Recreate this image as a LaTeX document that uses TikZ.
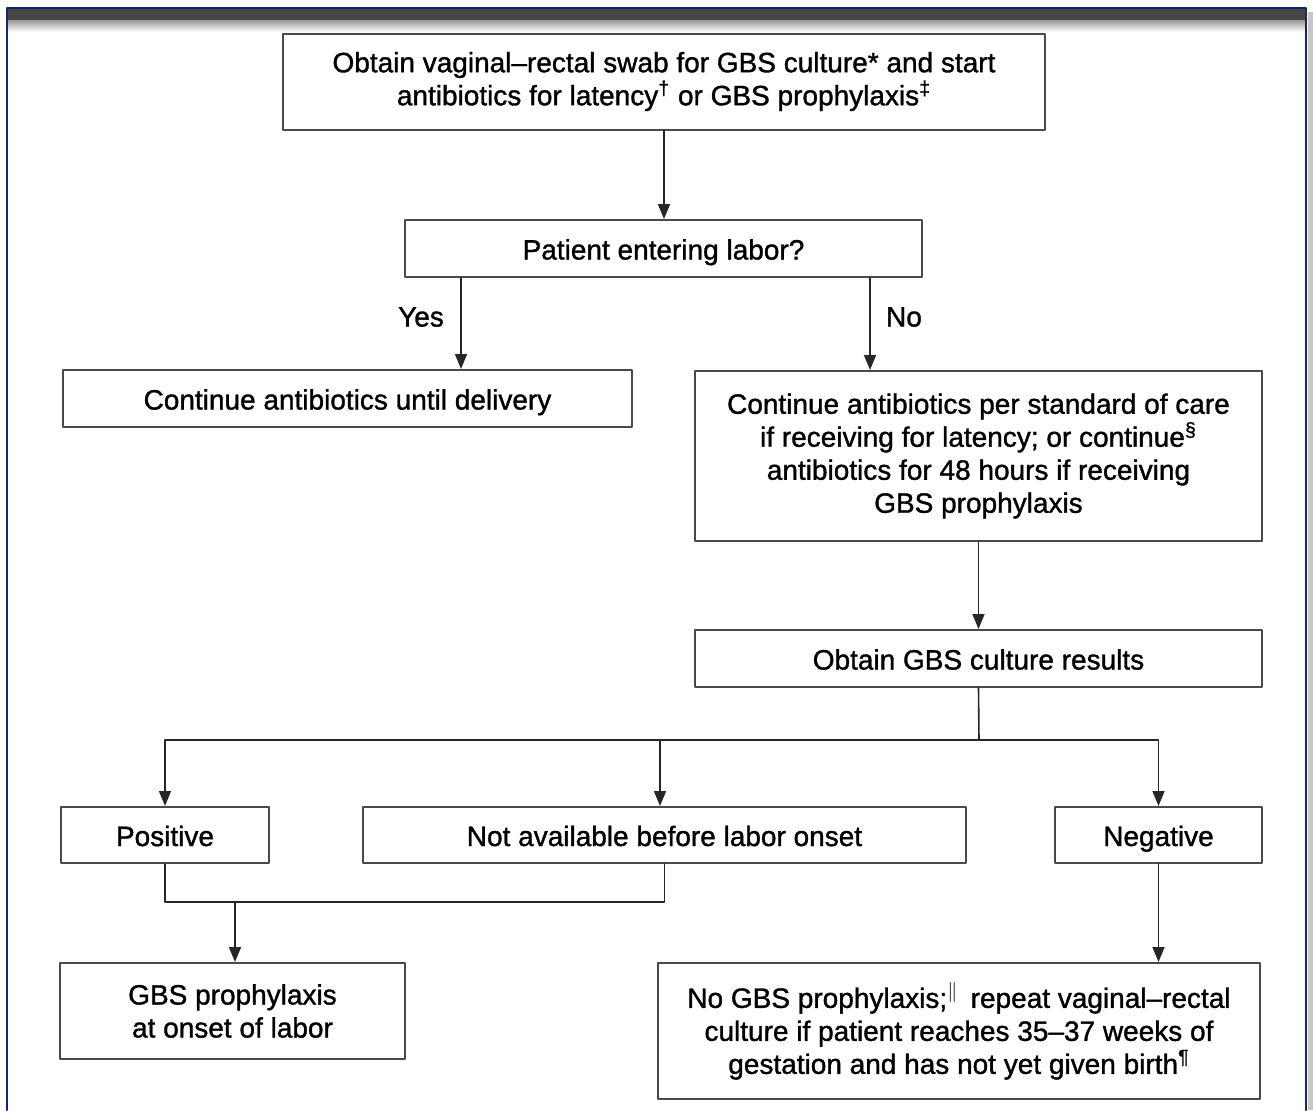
\documentclass[tikz,border=0pt]{standalone}
\usepackage{fontspec}
\setmainfont{Liberation Sans}[FakeBold=1.2]
\usetikzlibrary{arrows.meta,positioning}
\definecolor{framenavy}{HTML}{0B2A6B}
\definecolor{boxline}{HTML}{4A4A4A}
\newcommand{\flowfont}{\fontsize{14}{16.5}\selectfont}
\tikzset{
  flow box/.style={draw=boxline,line width=1pt,fill=white,align=center,inner sep=2pt,font=\flowfont},
  one line/.style={text height=11.5pt,text depth=.5pt},
  flow edge/.style={line width=.8pt,draw=black!85},
  flow arrow/.style={flow edge,-{Triangle[width=6pt,length=7.5pt]}},
  branch label/.style={font=\flowfont,inner sep=1pt}
}

\begin{document}
\begin{tikzpicture}[x=0.5pt,y=-0.5pt,line cap=round,line join=round]
  \useasboundingbox (0,0) rectangle (1313,1110);

  % Frame with dark title bar.
  \fill[black!22] (1308,12) rectangle (1313,1110);
  \shade[top color=black!40,bottom color=white] (7,20) rectangle (1306,32);
  \fill[black!72] (7,8) rectangle (1306,20);
  \draw[framenavy,line width=1.3pt] (7,1110) -- (7,8) -- (1306,8) -- (1306,1110);

  % Boxes.
  \node[flow box,minimum width=381pt,minimum height=48pt] (swab) at (664,81.5)
    {Obtain vaginal--rectal swab for GBS culture* and start\\
     antibiotics for latency\textsuperscript{\dag} or GBS prophylaxis\textsuperscript{\ddag}};
  \node[flow box,one line,minimum width=258.5pt,minimum height=28.5pt] (labor) at (663.5,248.5)
    {Patient entering labor?};
  \node[flow box,one line,minimum width=284.5pt,minimum height=28.5pt] (delivery) at (347.5,398.5)
    {Continue antibiotics until delivery};
  \node[flow box,minimum width=283.5pt,minimum height=85pt] (care) at (978.5,456)
    {Continue antibiotics per standard of care\\
     if receiving for latency; or continue\textsuperscript{\S}\\
     antibiotics for 48 hours if receiving\\
     GBS prophylaxis};
  \node[flow box,one line,minimum width=283.5pt,minimum height=28.5pt] (results) at (978.5,658.5)
    {Obtain GBS culture results};
  \node[flow box,one line,minimum width=104pt,minimum height=28pt] (positive) at (165,835) {Positive};
  \node[flow box,one line,minimum width=301.5pt,minimum height=28pt] (notavail) at (664.5,835)
    {Not available before labor onset};
  \node[flow box,one line,minimum width=103.5pt,minimum height=28pt] (negative) at (1158.5,835) {Negative};
  \node[flow box,minimum width=172.5pt,minimum height=48pt] (onset) at (232.5,1011)
    {GBS prophylaxis\\ at onset of labor};
  \node[flow box,minimum width=301pt,minimum height=68pt] (nogbs) at (959,1031)
    {No GBS prophylaxis;\textsuperscript{$\|$}\, repeat vaginal--rectal\\
     culture if patient reaches 35--37 weeks of\\
     gestation and has not yet given birth\textsuperscript{\P}};

  % Connectors.
  \coordinate (yes x) at (461,0);
  \coordinate (no x) at (870,0);
  \coordinate (split) at (979,740);
  \coordinate (merge) at (235,902);
  \draw[flow arrow] (swab.south) -- (labor.north -| swab.south);
  \draw[flow arrow] (labor.south -| yes x) -- (delivery.north -| yes x);
  \draw[flow arrow] (labor.south -| no x) -- (care.north -| no x);
  \draw[flow arrow] (care.south) -- (results.north);
  \draw[flow edge] (results.south) -- (split);
  \draw[flow arrow] (split) -| (positive.north);
  \draw[flow arrow] (split) -| (negative.north);
  \draw[flow arrow] (split -| 660,0) -- (notavail.north -| 660,0);
  \draw[flow edge] (positive.south) |- (merge) -| (notavail.south);
  \draw[flow arrow] (merge) -- (onset.north -| merge);
  \draw[flow arrow] (negative.south) -- (nogbs.north -| negative.south);

  \node[branch label] (yes) at (421,317) {Yes};
  \node[branch label] (no) at (904,317) {No};
\end{tikzpicture}
\end{document}
